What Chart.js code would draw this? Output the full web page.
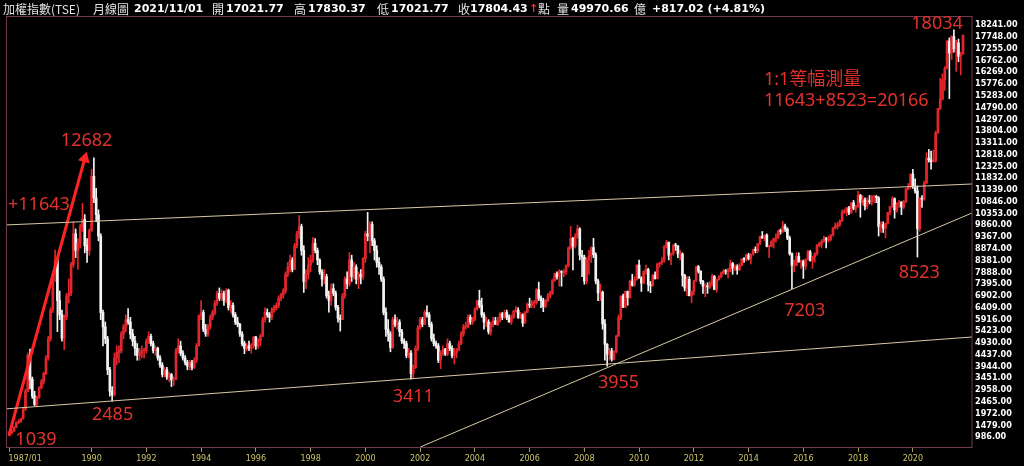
<!DOCTYPE html>
<html><head><meta charset="utf-8">
<script src="https://cdn.jsdelivr.net/npm/chart.js@4.4.0/dist/chart.umd.min.js"></script>
<style>html,body{margin:0;padding:0;background:#000;overflow:hidden}canvas{display:block}</style>
</head><body>
<canvas id="c" width="1024" height="466"></canvas>
<script>
// ---- monthly TAIEX candles, 1987/01 .. 2021/11 ----
const startYear = 1987;
const opens = [
1039,1145,1230,1400,1590,1640,1750,2150,2900,4400,3400,2700,
2340,2650,3050,3300,3650,4300,5100,6300,7800,8400,6700,6100,
5119,6000,6900,7000,8200,9500,8800,9100,9800,10100,9000,8800,
9624,11900,11000,10300,9400,6200,5600,5100,3800,2900,2750,4300,
4530,4600,5300,5600,5900,5800,5300,5000,4700,4400,4500,4600,
4600,5000,5200,4900,4600,4700,4300,4000,3600,3800,3500,3600,
3377,3400,4600,4800,4500,4300,4100,3950,4100,3900,4200,4800,
6070,6200,5500,5300,5600,6000,6200,6600,7000,6800,7000,6700,
7124,6400,6500,6100,5800,5700,5300,4900,4700,4800,4700,4800,
5173,4800,5000,5200,5900,6200,6100,6000,6300,6400,6500,6800,
6933,7100,7800,8100,8400,8000,9000,9500,9800,8800,7500,7800,
8187,8400,9100,8800,8400,7900,7600,7700,6900,6700,7200,7000,
6418,5950,5900,6900,7600,7400,8400,7700,8100,7600,7800,7700,
8448,9500,9400,9900,9200,8800,8300,8100,7600,6200,5500,5300,
4739,5900,5700,5800,5400,5000,4900,4400,4500,3650,3900,4700,
5551,5900,5700,6200,6100,5700,5100,4900,4800,4200,4550,4650,
4452,4900,4700,4400,4500,4600,4900,5300,5600,5600,6000,5800,
5890,6350,6700,6500,6100,5800,5800,5400,5700,5850,5700,5850,
6139,6000,6200,6000,5800,6000,6250,6300,6000,6100,5760,6200,
6548,6500,6600,6600,7150,6800,6700,6450,6700,6900,7000,7550,
7823,7700,7900,7880,7900,8150,8900,9300,8980,9400,9700,8600,
8506,7520,8410,8570,8920,8620,7520,7020,7050,5720,4870,4460,
4591,4250,4560,5210,5990,6890,6430,7080,6825,7510,7340,7580,
8188,7640,7430,7920,8000,7370,7330,7760,7620,8240,8290,8370,
8972,9145,8600,8680,9000,8990,8650,8650,7750,7225,7590,6900,
7072,7520,8120,7930,7500,7300,7300,7270,7400,7715,7170,7580,
7699,7850,7930,7920,7930,8250,8060,8110,7990,8170,8450,8410,
8611,8460,8640,8850,8790,9070,9390,9320,9440,8970,8970,9190,
9307,9360,9620,9590,9820,9700,9320,8665,8175,8180,8550,8320,
8338,8145,8410,8745,8377,8535,8667,9010,9068,9166,9290,9240,
9253,9448,9750,9812,9872,10040,10395,10427,10585,10384,10793,10560,
10642,11103,10815,10919,10658,10875,10837,11057,11064,11006,9802,9888,
9727,9932,10389,10641,10967,10498,10730,10823,10618,10830,11358,11489,
11997,11495,11292,9708,10992,10942,11621,12665,12592,12516,12546,13722,
14732,15138,15953,16431,17566,17068,17755,17247,17490,16935,17021.77];
const highs = [
1160,1250,1420,1620,1720,1780,2200,3000,4500,4673,3500,2900,
2700,3100,3400,3700,4400,5200,6400,7900,8813,8500,7100,6300,
6100,7000,7600,8300,10000,9700,9300,9900,10773,10300,9300,9700,
12200,12682,11400,10500,9500,6300,5800,5200,3900,3100,4500,4800,
4800,5400,5700,6100,6365,6000,5500,5200,4900,4700,4800,4700,
5100,5391,5300,5000,4800,4750,4400,4100,3900,3900,3700,3650,
3500,4700,5100,5000,4600,4400,4200,4200,4200,4300,4900,6100,
6700,6300,5700,5700,6100,6300,6700,7100,7228,7150,7100,7200,
7180,6700,6600,6200,6000,5750,5400,5000,4900,5000,4900,5200,
5200,5100,5300,6000,6400,6350,6200,6400,6500,6600,6900,7000,
7200,7900,8300,8600,8500,9100,9600,10256,9900,9000,8000,8500,
8600,9337,9300,8900,8450,8000,8000,7800,7100,7400,7400,7100,
6500,6100,7000,7700,7900,8710,8600,8300,8200,7900,8000,8500,
9600,10393,10000,10000,9300,9000,8500,8200,7700,6400,5900,5400,
6000,6100,6000,5900,5500,5100,5000,4700,4600,4000,4800,5650,
6000,6000,6300,6484,6200,5800,5300,5000,4900,4600,4800,4700,
5100,5000,4800,4700,4700,5000,5400,5700,5800,6100,6100,6000,
6400,6700,7135,6800,6200,6000,5900,5800,6000,6000,6000,6200,
6200,6300,6300,6100,6100,6300,6450,6400,6200,6150,6250,6600,
6800,6700,6700,7200,7474,6900,6800,6750,7000,7100,7600,7850,
7900,8000,7950,8000,8200,8950,9807,9350,9500,9859,9750,8800,
8600,8500,8800,8950,9309,8700,7600,7400,7100,5900,4900,4700,
4700,4600,5250,6100,6900,6970,7100,7100,7560,7800,7700,8200,
8395,7700,7950,8190,8050,7500,7800,7900,8250,8300,8500,9000,
9220,9150,8700,9050,9100,9000,8800,8700,7800,7700,7700,7100,
7550,8130,8170,7950,7550,7400,7450,7500,7800,7750,7600,7750,
7900,8000,8000,8050,8400,8300,8200,8200,8250,8450,8500,8650,
8680,8660,8850,8950,9100,9400,9593,9450,9500,8980,9200,9300,
9500,9650,9700,10014,9900,9750,9400,8700,8400,8700,8700,8400,
8400,8450,8800,8800,8550,8700,9050,9150,9250,9400,9350,9400,
9460,9760,9950,9970,10080,10500,10530,10600,10650,10800,10900,10700,
11270,11150,11100,11000,11000,11100,11100,11100,11100,11050,10000,10000,
9950,10400,10650,11050,11000,10800,10900,10850,10900,11400,11600,12000,
12197,11800,11500,11000,11100,11700,12900,13030,12960,13000,13800,14750,
16003,16200,16500,17600,17700,17790,18034,17600,17650,17100,17830.37];
const lows = [
1039,1120,1220,1380,1550,1600,1740,2100,2880,3000,2600,2298,
2298,2600,3000,3200,3600,4200,5000,6200,7500,5400,5900,5000,
4645,5900,6600,6900,8100,8500,8000,8900,9600,8700,8300,8600,
9600,10800,10000,9200,5900,4800,4900,3600,2700,2485,2700,4000,
4100,4500,5100,5400,5700,5100,4800,4400,4200,4200,4300,4300,
4500,4900,4800,4500,4400,4200,3900,3500,3500,3400,3300,3098,
3135,3400,4500,4400,4200,4000,3800,3800,3800,3850,4100,4800,
5900,5400,5200,5200,5500,5900,6100,6500,6700,6700,6500,6600,
6300,6200,6000,5700,5600,5200,4800,4474,4600,4600,4500,4700,
4650,4700,4800,5200,5800,6000,5800,5900,6200,6300,6400,6700,
6800,7000,7700,7900,7900,8000,8900,9300,8600,7040,7200,7600,
7900,8300,8700,8200,7800,7300,7400,6800,6219,6500,6900,6300,
5800,5422,5900,6800,7200,7300,7500,7600,7400,7200,7400,7600,
8300,9200,8700,9000,8400,8100,7800,7500,6100,5200,5000,4555,
4700,5600,5500,5200,4900,4700,4300,4300,3411,3450,3850,4600,
5500,5600,5700,6000,5600,5000,4800,4700,4100,3850,4400,4400,
4400,4600,4300,4044,4300,4600,4850,5200,5500,5550,5700,5700,
5850,6300,6400,6000,5500,5600,5300,5255,5600,5700,5650,5800,
5900,5950,5900,5800,5700,5950,6200,5950,5950,5618,5750,6200,
6400,6400,6400,6550,6700,6400,6232,6400,6650,6800,6950,7500,
7600,7300,7300,7700,7800,8100,8850,7987,8900,9300,8400,7700,
7384,7400,7800,8300,8500,7400,6700,6700,5500,4200,3955,4200,
4164,4200,4500,5200,5900,6400,6400,6500,6800,7300,7300,7550,
7640,7080,7400,7800,7100,7032,7300,7600,7600,8100,8200,8300,
8900,8400,8200,8600,8800,8500,8400,7300,7100,6900,6900,6609,
6950,7500,7850,7400,7000,6857,7000,7200,7300,7150,7050,7550,
7650,7800,7800,7650,7900,7800,7950,7800,7950,8150,8300,8350,
8400,8230,8600,8700,8700,9050,9300,9200,8950,8501,8950,8900,
9150,9300,9480,9550,9600,9250,8600,7203,7900,8150,8300,8050,
7627,8000,8400,8350,8050,8300,8600,8950,8900,9150,8900,9150,
9200,9400,9700,9700,9800,10000,10350,10250,10300,10350,10500,10400,
10600,10189,10700,10500,10550,10750,10700,10800,10800,9400,9550,9550,
9319,9900,10300,10600,10150,10400,10600,10300,10550,10800,11350,11400,
11400,11200,8523,9600,10600,10900,11600,12500,12200,12500,12500,13700,
14700,15100,15500,16400,15159,16800,17100,16300,16700,16150,17021.77];
const closes = [
1145,1230,1400,1590,1640,1750,2150,2900,4400,3400,2700,2340,
2650,3050,3300,3650,4300,5100,6300,7800,8400,6700,6100,5119,
6000,6900,7000,8200,9500,8800,9100,9800,10100,9000,8800,9624,
11900,11000,10300,9400,6200,5600,5100,3800,2900,2750,4300,4530,
4600,5300,5600,5900,5800,5300,5000,4700,4400,4500,4600,4600,
5000,5200,4900,4600,4700,4300,4000,3600,3800,3500,3600,3377,
3400,4600,4800,4500,4300,4100,3950,4100,3900,4200,4800,6070,
6200,5500,5300,5600,6000,6200,6600,7000,6800,7000,6700,7124,
6400,6500,6100,5800,5700,5300,4900,4700,4800,4700,4800,5173,
4800,5000,5200,5900,6200,6100,6000,6300,6400,6500,6800,6933,
7100,7800,8100,8400,8000,9000,9500,9800,8800,7500,7800,8187,
8400,9100,8800,8400,7900,7600,7700,6900,6700,7200,7000,6418,
5950,5900,6900,7600,7400,8400,7700,8100,7600,7800,7700,8448,
9500,9400,9900,9200,8800,8300,8100,7600,6200,5500,5300,4739,
5900,5700,5800,5400,5000,4900,4400,4500,3650,3900,4700,5551,
5900,5700,6200,6100,5700,5100,4900,4800,4200,4550,4650,4452,
4900,4700,4400,4500,4600,4900,5300,5600,5600,6000,5800,5890,
6350,6700,6500,6100,5800,5800,5400,5700,5850,5700,5850,6139,
6000,6200,6000,5800,6000,6250,6300,6000,6100,5760,6200,6548,
6500,6600,6600,7150,6800,6700,6450,6700,6900,7000,7550,7823,
7700,7900,7880,7900,8150,8900,9300,8980,9400,9700,8600,8506,
7520,8410,8570,8920,8620,7520,7020,7050,5720,4870,4460,4591,
4250,4560,5210,5990,6890,6430,7080,6825,7510,7340,7580,8188,
7640,7430,7920,8000,7370,7330,7760,7620,8240,8290,8370,8972,
9145,8600,8680,9000,8990,8650,8650,7750,7225,7590,6900,7072,
7520,8120,7930,7500,7300,7300,7270,7400,7715,7170,7580,7699,
7850,7930,7920,7930,8250,8060,8110,7990,8170,8450,8410,8611,
8460,8640,8850,8790,9070,9390,9320,9440,8970,8970,9190,9307,
9360,9620,9590,9820,9700,9320,8665,8175,8180,8550,8320,8338,
8145,8410,8745,8377,8535,8667,9010,9068,9166,9290,9240,9253,
9448,9750,9812,9872,10040,10395,10427,10585,10384,10793,10560,10642,
11103,10815,10919,10658,10875,10837,11057,11064,11006,9802,9888,9727,
9932,10389,10641,10967,10498,10730,10823,10618,10830,11358,11489,11997,
11495,11292,9708,10992,10942,11621,12665,12592,12516,12546,13722,14732,
15138,15953,16431,17566,17068,17755,17247,17490,16935,16987.41,17804.43];
const lastVolume = 49970.66;       // 億
const lastDate = '2021/11/01';

// axis tick labels
const xTickLabels = ['1987/01','1990','1992','1994','1996','1998','2000','2002','2004','2006','2008','2010','2012','2014','2016','2018','2020'];
const yTickValues = [986,1479,1972,2465,2958,3451,3944,4437,4930,5423,5916,6409,6902,7395,7888,8381,8874,9367,9860,10353,10846,11339,11832,12325,12818,13311,13804,14297,14790,15283,15776,16269,16762,17255,17748,18241];

// hand-drawn trend lines: [monthIndex, index value]
const upperChannel = [[-1.09, 9869], [421.93, 11582]];
const lowerChannel = [[-1.09, 2167], [421.93, 5174]];
const risingTrend  = [[180.1, 568], [421.93, 10368]];
const arrowLine    = [[-0.2, 1070], [33.0, 12650]];

// annotation texts
const notes = [
  {t:'12682', x:33.8, y:13383},
  {t:'+11643', x:12.9, y:10703},
  {t:'1039', x:11.6, y:861},
  {t:'2485', x:45.2, y:1908},
  {t:'3411', x:177.0, y:2662},
  {t:'3955', x:267.0, y:3250},
  {t:'7203', x:348.6, y:6263},
  {t:'8523', x:398.8, y:7855},
  {t:'18034', x:406.6, y:18283},
  {t:'1:1等幅測量', x:330.7, y:15938, left:true},
  {t:'11643+8523=20166', x:330.7, y:15058, left:true}
];

const UP = '#e3262b', DOWN = '#f3f3f3', TREND = '#d8c9a6', ARROW = '#ff2424', NOTE = '#e3322c', BORDER = '#6e3a4c', XLAB = '#cdc36a';

const xTickIndex = xTickLabels.map(l => (parseInt(l, 10) - startYear) * 12);
const candleColors = closes.map((c, i) => c >= opens[i] ? UP : DOWN);
const bodyData = closes.map((c, i) => ({x: i, y: [opens[i], c]}));
const wickData = closes.map((c, i) => ({x: i, y: [lows[i], highs[i]]}));
const toPts = arr => arr.map(p => ({x: p[0], y: p[1]}));

const decor = {
  id: 'decor',
  beforeDraw(chart) {
    const ctx = chart.ctx;
    ctx.save();
    ctx.fillStyle = '#000';
    ctx.fillRect(0, 0, chart.width, chart.height);
    // header
    const n = closes.length;
    const chg = closes[n-1] - closes[n-2];
    const pct = chg / closes[n-2] * 100;
    const cjk = '12px "Noto Sans CJK TC", "Noto Sans", sans-serif';
    const num = 'bold 11px "DejaVu Sans", Verdana, sans-serif';
    const items = [
      ['加權指數(TSE)', 3, cjk, '#e2e2e2'],
      ['月線圖', 93, cjk, '#e2e2e2'],
      [lastDate, 134, num, '#ffffff'],
      ['開', 212, cjk, '#e2e2e2'], [opens[n-1].toFixed(2), 226, num, '#ffffff'],
      ['高', 294, cjk, '#e2e2e2'], [highs[n-1].toFixed(2), 308, num, '#ffffff'],
      ['低', 377, cjk, '#e2e2e2'], [lows[n-1].toFixed(2), 391, num, '#ffffff'],
      ['收', 458, cjk, '#e2e2e2'], [closes[n-1].toFixed(2), 470, num, '#ffffff'],
      ['↑', 529, 'bold 11px "DejaVu Sans", sans-serif', '#ff2a2a'],
      ['點', 538, cjk, '#e2e2e2'],
      ['量', 557, cjk, '#e2e2e2'], [lastVolume.toFixed(2), 571, num, '#ffffff'],
      ['億', 634, cjk, '#e2e2e2'],
      [(chg >= 0 ? '+' : '') + chg.toFixed(2) + ' (' + (pct >= 0 ? '+' : '') + pct.toFixed(2) + '%)', 652, num, '#ffffff']
    ];
    ctx.textBaseline = 'middle';
    ctx.textAlign = 'left';
    items.forEach(([t, x, f, c]) => { ctx.font = f; ctx.fillStyle = c; ctx.fillText(t, x, 9); });
    ctx.restore();
  },
  afterDraw(chart) {
    const {ctx, chartArea: a, scales} = chart;
    const xs = scales.x, ys = scales.y;
    ctx.save();
    // frame
    ctx.strokeStyle = BORDER; ctx.lineWidth = 1;
    ctx.strokeRect(Math.round(a.left) - 0.5, Math.round(a.top) + 0.5, Math.round(a.right - a.left) + 0.5, Math.round(a.bottom - a.top) - 1);
    // x labels
    ctx.font = '8px "DejaVu Sans", Verdana, sans-serif';
    ctx.fillStyle = XLAB; ctx.textBaseline = 'middle';
    xTickLabels.forEach((l, i) => {
      const px = xs.getPixelForValue(xTickIndex[i]);
      if (i === 0) { ctx.textAlign = 'left'; ctx.fillText(l, px - 1, 458.5); }
      else { ctx.textAlign = 'center'; ctx.fillText(l, px, 458.5); }
    });
    // notes
    ctx.font = '18px "Noto Sans", "Noto Sans CJK TC", sans-serif';
    ctx.fillStyle = NOTE;
    notes.forEach(nt => {
      ctx.textAlign = nt.left ? 'left' : 'center';
      ctx.fillText(nt.t, xs.getPixelForValue(nt.x), ys.getPixelForValue(nt.y));
    });
    ctx.restore();
  }
};

new Chart(document.getElementById('c'), {
  type: 'bar',
  data: {
    datasets: [
      {type: 'line', data: toPts(upperChannel), borderColor: TREND, borderWidth: 1, pointRadius: 0, order: 0},
      {type: 'line', data: toPts(lowerChannel), borderColor: TREND, borderWidth: 1, pointRadius: 0, order: 0},
      {type: 'line', data: toPts(risingTrend), borderColor: TREND, borderWidth: 1, pointRadius: 0, order: 0},
      {type: 'line', data: toPts(arrowLine), borderColor: ARROW, borderWidth: 3, pointRadius: [0, 7], pointStyle: 'triangle', rotation: 15.5, pointBackgroundColor: ARROW, pointBorderColor: ARROW, pointBorderWidth: 0, order: 0, clip: false},
      {data: bodyData, backgroundColor: candleColors, barThickness: 2, grouped: false, minBarLength: 1, order: 1},
      {data: wickData, backgroundColor: candleColors, barThickness: 1, grouped: false, order: 2}
    ]
  },
  options: {
    responsive: false, animation: false, devicePixelRatio: 1,
    layout: {padding: {left: 3, top: 16, right: 0, bottom: 0}},
    plugins: {legend: {display: false}, tooltip: {enabled: false}},
    scales: {
      x: {
        type: 'linear', min: -1.09, max: 421.93, offset: false, bounds: 'data',
        afterBuildTicks: s => { s.ticks = xTickIndex.map(v => ({value: v})); },
        afterFit: s => { s.height = 18; },
        ticks: {display: false},
        grid: {display: true, drawOnChartArea: false, drawTicks: true, tickLength: 4, color: '#a89c58', offset: false},
        border: {display: false}
      },
      y: {
        type: 'linear', position: 'right', min: 525, max: 18618, bounds: 'data',
        afterBuildTicks: s => { s.ticks = yTickValues.map(v => ({value: v})); },
        afterFit: s => { s.width = 52; },
        ticks: {color: '#ffffff', padding: 3, autoSkip: false, font: {family: '"DejaVu Sans Condensed", "DejaVu Sans", Verdana, sans-serif', size: 9, weight: 'bold'}, callback: v => Number(v).toFixed(2)},
        grid: {display: false, drawTicks: false},
        border: {display: false}
      }
    }
  },
  plugins: [decor]
});
</script>
</body></html>
